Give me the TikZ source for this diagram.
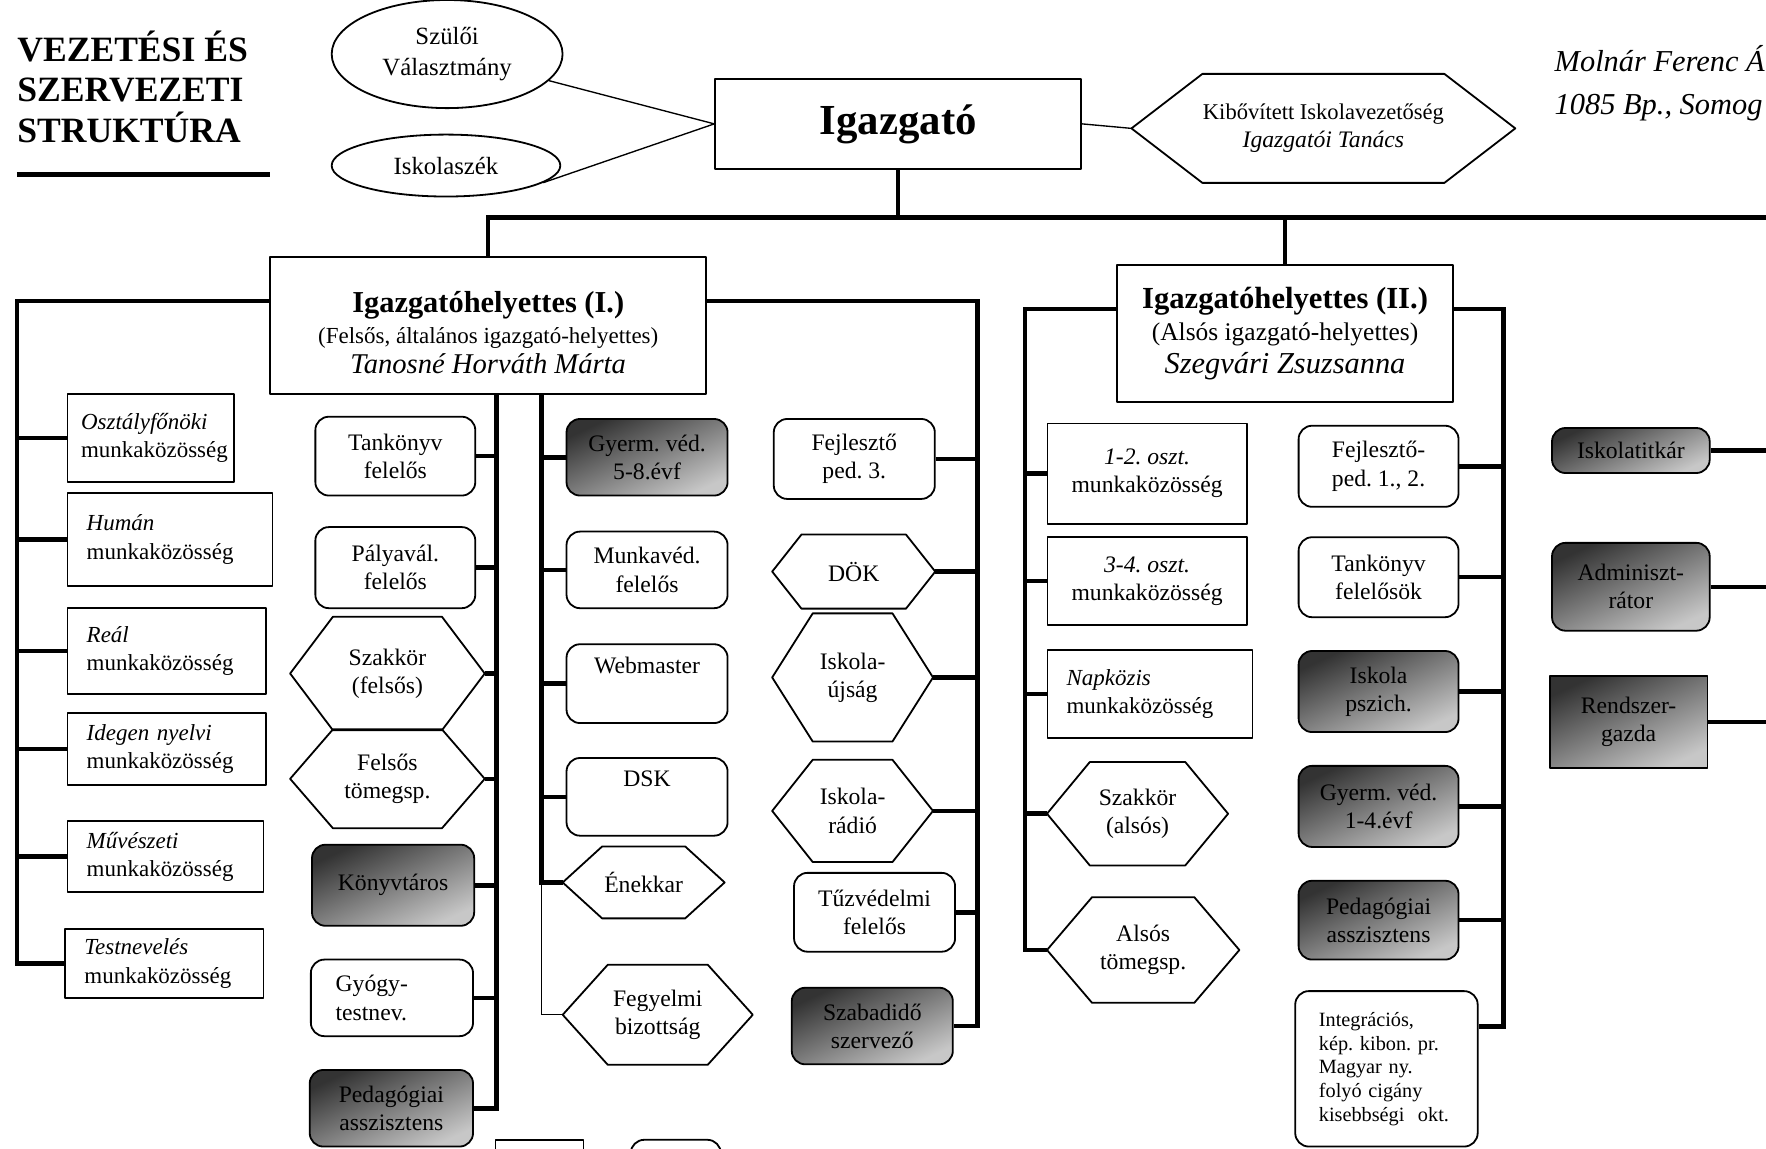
\documentclass[tikz,border=0pt]{standalone}
\usepackage{fontspec}
\setmainfont{Liberation Serif}
\frenchspacing
\usetikzlibrary{shapes.geometric,calc}
\newcommand\BX[7]{\node[#1, minimum width={(#5-#3)*0.5pt}, minimum height={(#6-#4)*0.5pt}] (#2) at ({(#3+#5)/2},{(#4+#6)/2}) {#7};}
\newcommand\HX[7]{\node[hexn, minimum width={(#4-#2)*0.5pt}, minimum height={(#5-#3)*0.5pt}] (#1) at ({(#2+#4)/2},{(#3+#5)/2}) {#7};
\draw[boxline] (#1.west) -- ($(#1.north west)+(#6,0)$) -- ($(#1.north east)+(-#6,0)$) -- (#1.east) -- ($(#1.south east)+(-#6,0)$) -- ($(#1.south west)+(#6,0)$) -- cycle;}
\tikzset{
 txt/.style={font=\fontsize{10.5}{12.5}\selectfont, align=center, inner sep=1pt},
 boxline/.style={line width=0.8pt, line join=round},
 sbox/.style={txt, draw, boxline, rectangle},
 lbox/.style={sbox, align=left, font=\fontsize{10.2}{12.5}\selectfont},
 rbox/.style={txt, draw, boxline, rounded corners=6pt},
 shade/.style={top color=black!80, bottom color=black!22, shading angle=25},
 gbox/.style={rbox, shade},
 gsbox/.style={sbox, shade},
 hexn/.style={txt, rectangle, inner sep=0pt},
 conn/.style={line width=2pt},
 thin/.style={line width=0.6pt},
}
\begin{document}
\begin{tikzpicture}[x=0.5pt,y=-0.5pt]
\useasboundingbox (0,0) rectangle (1568,1020);
\clip (0,0) rectangle (1568,1020);

% ---- header ----
\node[anchor=north west, align=left, inner sep=0pt, font=\fontsize{15.8}{18}\selectfont\bfseries] (title) at (15,27) {VEZETÉSI ÉS\\SZERVEZETI\\STRUKTÚRA};
\draw[line width=2.5pt] (15,155) -- (240,155);

\node[draw, boxline, ellipse, minimum width=102.5pt, minimum height=48pt, font=\fontsize{11}{14}\selectfont, align=center, inner sep=0pt] (sz) at (397,48) {Szülői\\Választmány};
\node[draw, boxline, ellipse, minimum width=101.5pt, minimum height=27.5pt, font=\fontsize{11}{14}\selectfont, inner sep=0pt] (isk) at (396,147) {Iskolaszék};
\BX{sbox, font=\fontsize{19}{22}\selectfont\bfseries}{igz}{635}{70}{960}{150}{Igazgató}
\HX{kib}{1005}{66}{1345}{162}{63}{\fontsize{10}{13.5}\selectfont Kibővített Iskolavezetőség\\\fontsize{10.5}{13.5}\selectfont\itshape Igazgatói Tanács}
\node[anchor=west, align=left, inner sep=0pt, font=\fontsize{13.5}{19}\selectfont\itshape] (mol) at (1380,74) {Molnár Ferenc Á\\1085 Bp., Somog};

% ---- deputies ----
\BX{sbox, font=\fontsize{12}{13.5}\selectfont}{ih1}{240}{228}{627}{350}{{\rule{0pt}{16pt}\fontsize{13.5}{13.5}\selectfont\bfseries Igazgatóhelyettes (I.)}\\{\fontsize{10.2}{13.5}\selectfont (Felsős, általános igazgató-helyettes)}\\{\fontsize{12.7}{13.5}\selectfont\itshape Tanosné Horváth Márta}}
\BX{sbox, font=\fontsize{12}{14.5}\selectfont}{ih2}{992}{235}{1290}{357}{{\fontsize{13.6}{14.5}\selectfont\bfseries Igazgatóhelyettes (II.)}\\{\fontsize{11.3}{14.5}\selectfont (Alsós igazgató-helyettes)}\\{\fontsize{13.5}{14.5}\selectfont\itshape Szegvári Zsuzsanna}}

% ---- left column ----
\BX{lbox, text width=62pt}{osz}{60}{350}{208}{428}{\textit{Osztályfőnöki}\\munkaközösség}
\BX{lbox, text width=74pt}{hum}{60}{438}{242}{520}{\textit{Humán}\\munkaközösség}
\BX{lbox, text width=71pt}{rea}{60}{540}{236}{616}{\textit{Reál}\\munkaközösség}
\BX{lbox, text width=71pt}{ide}{60}{633}{236}{697}{\textit{Idegen nyelvi}\\munkaközösség}
\BX{lbox, text width=70pt}{muv}{60}{729}{234}{792}{\textit{Művészeti}\\munkaközösség}
\BX{lbox, text width=71pt}{tes}{58}{825}{234}{886}{\textit{Testnevelés}\\munkaközösség}

% ---- column 1 ----
\BX{rbox}{tank1}{280}{370}{422}{440}{Tankönyv\\felelős}
\BX{rbox}{paly}{280}{468}{422}{540}{Pályavál.\\felelős}
\HX{szak1}{258}{548}{430}{648}{38}{Szakkör\\(felsős)}
\HX{fels}{258}{648}{430}{735}{38}{Felsős\\tömegsp.}
\BX{gbox}{konyv}{277}{750}{421}{822}{Könyvtáros}
\BX{rbox, align=left, text width=50pt}{gyogy}{276}{852}{420}{920}{Gyógy-\\testnev.}
\BX{gbox}{ped1}{275}{950}{420}{1018}{Pedagógiai\\asszisztens}

% ---- column 2 ----
\BX{gbox}{gyv58}{503}{372}{646}{440}{Gyerm. véd.\\5-8.évf}
\BX{rbox}{munk}{503}{472}{646}{540}{Munkavéd.\\felelős}
\BX{rbox}{web}{503}{572}{646}{642}{Webmaster\\\strut}
\BX{rbox}{dsk}{503}{673}{646}{742}{DSK\\\strut}
\HX{enek}{500}{752}{643}{815}{35}{Énekkar}
\HX{fegy}{500}{857}{668}{945}{40}{Fegyelmi\\bizottság}

% ---- column 3 ----
\BX{rbox}{fej3}{687}{372}{830}{443}{Fejlesztő\\ped. 3.}
\HX{dok}{686}{475}{830}{540}{26}{DÖK}
\HX{ujs}{686}{545}{828}{658}{36}{Iskola-\\újság}
\HX{rad}{686}{675}{828}{765}{36}{Iskola-\\rádió}
\BX{rbox}{tuz}{705}{775}{848}{845}{Tűzvédelmi\\felelős}
\BX{gbox}{szab}{703}{877}{846}{945}{Szabadidő\\szervező}

% ---- deputy II left ----
\BX{sbox}{o12}{930}{376}{1107}{465}{\textit{1-2. oszt.}\\munkaközösség}
\BX{sbox}{o34}{930}{477}{1107}{555}{\textit{3-4. oszt.}\\munkaközösség}
\BX{lbox, text width=74pt}{napk}{930}{577}{1112}{655}{\textit{Napközis}\\munkaközösség}
\HX{szak2}{930}{677}{1090}{768}{38}{Szakkör\\(alsós)}
\HX{als}{930}{797}{1100}{890}{40}{Alsós\\tömegsp.}

% ---- deputy II right ----
\BX{rbox}{fej12}{1153}{378}{1295}{450}{Fejlesztő-\\ped. 1., 2.}
\BX{rbox}{tank2}{1153}{477}{1295}{548}{Tankönyv\\felelősök}
\BX{gbox}{pszi}{1153}{578}{1295}{650}{Iskola\\pszich.}
\BX{gbox}{gyv14}{1153}{680}{1295}{752}{Gyerm. véd.\\1-4.évf}
\BX{gbox}{ped2}{1153}{782}{1295}{852}{Pedagógiai\\asszisztens}
\BX{rbox, align=left, text width=60pt, font=\fontsize{9}{10.5}\selectfont}{integ}{1150}{880}{1312}{1018}{Integrációs,\\kép. kibon. pr.\\Magyar ny.\\folyó cigány\\kisebbségi\ \ okt.}

% ---- far right ----
\BX{gbox}{tit}{1378}{380}{1518}{420}{Iskolatitkár}
\BX{gbox}{adm}{1378}{482}{1518}{560}{Adminiszt-\\rátor}
\BX{gsbox}{rsz}{1376}{600}{1516}{682}{Rendszer-\\gazda}

% ---- bottom partial boxes ----
\BX{sbox}{bot1}{440}{1012}{518}{1070}{}
\BX{rbox}{bot2}{560}{1012}{640}{1070}{}

% ---- connectors ----
\draw[thin] (sz) -- (igz.west);
\draw[thin] (isk.-10) -- (igz.west);
\draw[thin] (igz.east) -- (kib.west);
\coordinate (barL) at (432,193);
\coordinate (barR) at (1580,193);
\draw[conn] (igz.south) -- (igz.south |- barL);
\draw[conn] (ih1.north) -- (ih1.north |- barL) -- (barR);
\draw[conn] (ih2.north |- barL) -- (ih2.north);

% deputy I left
\coordinate (a1) at ($(ih1.north west)+(0,40)$);
\coordinate (xL) at (15,0);
\draw[conn] (a1) -- (xL |- a1) -- (xL |- tes.west) -- (tes.west);
\foreach \n in {osz,hum,rea,ide,muv} \draw[conn] (xL |- \n.west) -- (\n.west);

% column 1
\coordinate (c1) at (441,0);
\draw[conn] (c1 |- ih1.south) -- (c1 |- ped1.east) -- (ped1.east);
\foreach \n in {tank1,paly,szak1,fels,konyv,gyogy} \draw[conn] (\n.east) -- (\n.east -| c1);

% column 2
\coordinate (c2) at (481,0);
\draw[conn] (c2 |- ih1.south) -- (c2 |- enek.west) -- (enek.west);
\draw[thin] (c2 |- enek.west) -- (c2 |- fegy.west) -- (fegy.west);
\foreach \n in {gyv58,munk,web,dsk} \draw[conn] (c2 |- \n.west) -- (\n.west);

% column 3
\coordinate (a1r) at ($(ih1.north east)+(0,40)$);
\coordinate (c3) at (868,0);
\draw[conn] (a1r) -- (c3 |- a1r) -- (c3 |- szab.east) -- (szab.east);
\foreach \n in {fej3,dok,ujs,rad,tuz} \draw[conn] (\n.east) -- (\n.east -| c3);

% deputy II left
\coordinate (a2) at ($(ih2.north west)+(0,40)$);
\coordinate (c4) at (910,0);
\draw[conn] (a2) -- (c4 |- a2) -- (c4 |- als.west) -- (als.west);
\foreach \n in {o12,o34,napk,szak2} \draw[conn] (c4 |- \n.west) -- (\n.west);

% deputy II right
\coordinate (a3) at ($(ih2.north east)+(0,40)$);
\coordinate (c5) at (1335,0);
\coordinate (ib) at ($(integ.north east)+(0,32)$);
\draw[conn] (a3) -- (c5 |- a3) -- (c5 |- ib) -- (ib);
\foreach \n in {fej12,tank2,pszi,gyv14,ped2} \draw[conn] (\n.east) -- (\n.east -| c5);

% far right
\coordinate (c6) at (1580,0);
\foreach \n in {tit,adm,rsz} \draw[conn] (\n.east) -- (\n.east -| c6);
\end{tikzpicture}
\end{document}
